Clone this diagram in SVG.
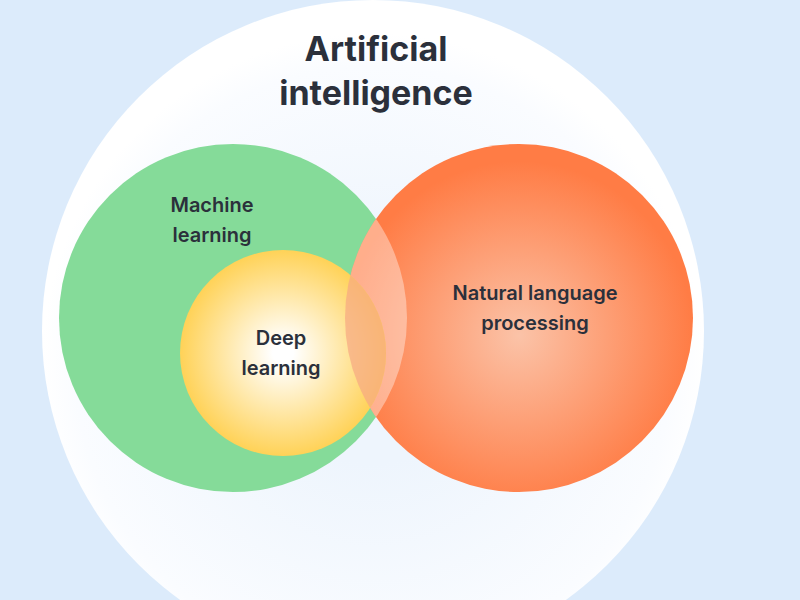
<svg xmlns="http://www.w3.org/2000/svg" width="800" height="600" viewBox="0 0 800 600">
<defs>
<radialGradient id="bg" cx="0.5" cy="0.55" r="0.5"><stop offset="0.3" stop-color="#eef5fd"/><stop offset="0.9" stop-color="#fafcff"/><stop offset="1" stop-color="#ffffff"/></radialGradient>
<radialGradient id="or" cx="0.5" cy="0.55" r="0.5"><stop offset="0" stop-color="#fbc3a8"/><stop offset="1" stop-color="#ff7c45"/></radialGradient>
<radialGradient id="ye" cx="0.5" cy="0.5" r="0.5"><stop offset="0.1" stop-color="#ffffff"/><stop offset="1" stop-color="#ffd257"/></radialGradient>
<clipPath id="gc"><circle cx="233" cy="318" r="174"/></clipPath>
<clipPath id="dlc"><circle cx="283" cy="353" r="103"/></clipPath>
<style>text{font-family:Inter,"Liberation Sans",sans-serif;fill:#2b303b;text-anchor:middle;font-weight:600}.t{font-size:34px;font-weight:700}.l{font-size:20px}</style>
</defs>
<rect width="800" height="600" fill="#dcebfb"/>
<circle cx="373" cy="331" r="331" fill="url(#bg)"/>
<g id="ml"><circle cx="233" cy="318" r="174" fill="#85db99"/></g>
<g id="nlp"><circle cx="519" cy="318" r="174" fill="url(#or)"/>
<circle cx="519" cy="318" r="174" fill="#ffffff" fill-opacity="0.38" clip-path="url(#gc)"/></g>
<g id="dl"><circle cx="283" cy="353" r="103" fill="url(#ye)"/>
<circle cx="519" cy="318" r="174" fill="#f7a883" fill-opacity="0.7" clip-path="url(#dlc)"/></g>
<g id="connectors"/>
<text class="t" x="376" y="61">Artificial</text>
<text class="t" x="376" y="105">intelligence</text>
<text class="l" x="212" y="212">Machine</text>
<text class="l" x="212" y="242">learning</text>
<text class="l" x="281" y="345">Deep</text>
<text class="l" x="281" y="375">learning</text>
<text class="l" x="535" y="300">Natural language</text>
<text class="l" x="535" y="330">processing</text>
</svg>
